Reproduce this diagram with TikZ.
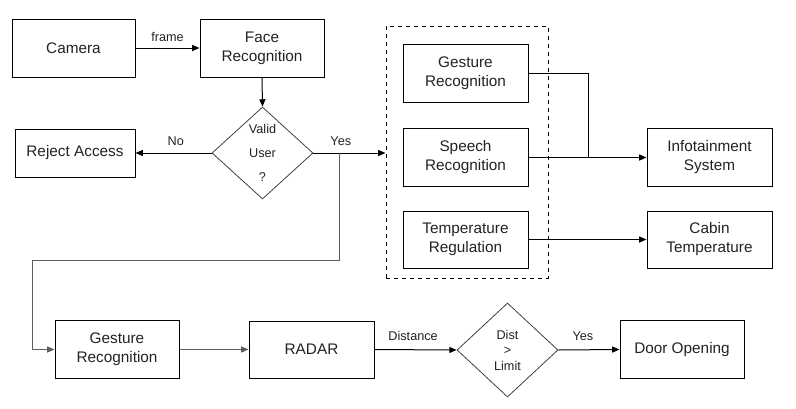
\documentclass[tikz,border=0pt]{standalone}
\usepackage{fontspec}
\setmainfont{Liberation Sans}
\usetikzlibrary{arrows.meta,shapes.geometric}
\definecolor{txt}{HTML}{222222}
\definecolor{graylink}{HTML}{595E66}
\tikzset{
  box/.style={draw=black, line width=0.75pt, rectangle, inner sep=0pt, align=center,
    font=\fontsize{11.5}{14.25}\selectfont, text=txt},
  dec/.style={draw=black!75, line width=0.6pt, diamond, inner sep=0pt, align=center, text=txt},
  lbl/.style={font=\fontsize{9.5}{11}\selectfont, text=txt, inner sep=0pt},
  link/.style={draw=black, line width=0.75pt},
  arr/.style={link, -{Triangle[length=5.5pt,width=4.5pt]}},
  garr/.style={draw=graylink, line width=0.75pt, -{Triangle[length=5.5pt,width=4.5pt]}},
}
\begin{document}
\begin{tikzpicture}[x=0.75pt,y=-0.75pt]
\useasboundingbox (0,0) rectangle (796,408);
% group box
\node[draw=black, dashed, line width=0.75pt, minimum width=162*0.75pt, minimum height=252*0.75pt, inner sep=0pt] (grp) at (467,152) {};
% nodes
\node[box, minimum width=123*0.75pt, minimum height=58*0.75pt] (cam) at (73.5,48) {Camera};
\node[box, minimum width=124*0.75pt, minimum height=58*0.75pt] (face) at (262,48) {Face\\Recognition};
\node[dec, minimum width=101*0.75pt, minimum height=92*0.75pt, aspect=1.1,
  font=\fontsize{9.5}{18}\selectfont] (valid) at (262.5,153) {Valid\\User\\?};
\node[box, minimum width=120*0.75pt, minimum height=48*0.75pt] (rej) at (75,153) {Reject Access};
\node[box, minimum width=125*0.75pt, minimum height=58*0.75pt] (gt) at (465.5,73) {Gesture\\Recognition};
\node[box, minimum width=125*0.75pt, minimum height=58*0.75pt] (sp) at (465.5,157.5) {Speech\\Recognition};
\node[box, minimum width=125*0.75pt, minimum height=57*0.75pt] (tr) at (465.5,239.5) {Temperature\\Regulation};
\node[box, minimum width=125*0.75pt, minimum height=58*0.75pt] (info) at (709.5,157.5) {Infotainment\\System};
\node[box, minimum width=125*0.75pt, minimum height=57*0.75pt] (cab) at (709.5,239.5) {Cabin\\Temperature};
\node[box, minimum width=124*0.75pt, minimum height=58*0.75pt] (gl) at (117,349.5) {Gesture\\Recognition};
\node[box, minimum width=125*0.75pt, minimum height=57*0.75pt] (radar) at (311.5,349.5) {RADAR};
\node[dec, minimum width=101*0.75pt, minimum height=94*0.75pt, aspect=1.07,
  font=\fontsize{9.5}{11.6}\selectfont] (dist) at (507.5,350) {Dist\\>\\Limit};
\node[box, minimum width=124*0.75pt, minimum height=58*0.75pt] (door) at (682,349.5) {Door Opening};
% coordinates
\coordinate (br) at (339,153);
\coordinate (b1) at (339,260);
\coordinate (b2) at (32,260);
\coordinate (j) at (588,157.5);
% connectors
\draw[arr] (cam.east) -- (face.west) node[lbl, midway, yshift=8.5pt] {frame};
\draw[arr] (face.south) -- (valid.north);
\draw[arr] (valid.west) -- (rej.east) node[lbl, pos=0.47, yshift=8.5pt] {No};
\draw[arr] (valid.east) -- (valid.east -| grp.west) node[lbl, pos=0.38, yshift=8.5pt] {Yes};
\draw[garr] (br) -- (b1) -- (b2) |- (gl.west);
\draw[garr] (gl.east) -- (radar.west);
\draw[arr] (radar.east) -- (dist.west) node[lbl, pos=0.47, yshift=10.5pt] {Distance};
\draw[arr] (dist.east) -- (door.west) node[lbl, pos=0.4, yshift=10.5pt] {Yes};
\draw[link] (gt.east) -| (j);
\draw[arr] (sp.east) -- (info.west);
\draw[arr] (tr.east) -- (cab.west);
\end{tikzpicture}
\end{document}
